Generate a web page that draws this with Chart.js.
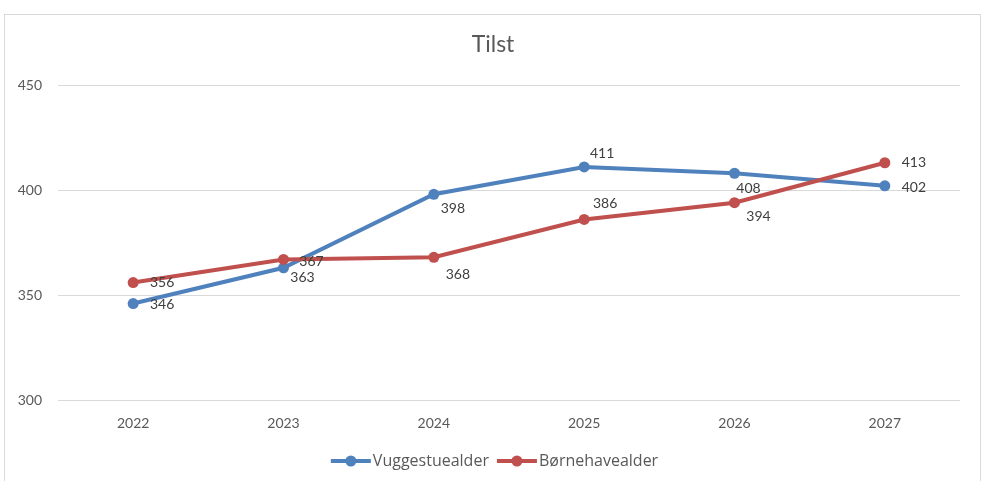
<!DOCTYPE html>
<html>
<head>
<meta charset="utf-8">
<script src="https://cdn.jsdelivr.net/npm/chart.js@4.4.0/dist/chart.umd.min.js"></script>
<style>
  html, body { margin: 0; padding: 0; background: #fff; }
  #chart { position: absolute; left: 0; top: 0; }
</style>
</head>
<body>
<canvas id="chart" width="981" height="481"></canvas>
<script>
// data
const years = ["2022", "2023", "2024", "2025", "2026", "2027"];
const vuggestue = [346, 363, 398, 411, 408, 402];
const boernehave = [356, 367, 368, 386, 394, 413];
const seriesNames = ["Vuggestuealder", "Børnehavealder"];
const yTicks = [300, 350, 400, 450];
const chartTitle = "Tilst";

const blue = "#4F81BD";
const red = "#C0504D";
const font = "Lato, 'Open Sans', sans-serif";

// where each value label sits relative to its point (dx, dy)
const labelOffsets = [
  [[29, 1], [19, 10], [19, 14], [18, -13], [14, 15], [29, 2]],
  [[29, 0], [28, 2], [24, 17], [21, -16], [24, 14], [29, 0]]
];

// frame round the chart + white background + title
const framePlugin = {
  id: "frame",
  beforeDraw(chart) {
    const ctx = chart.ctx;
    ctx.save();
    ctx.fillStyle = "#fff";
    ctx.fillRect(0, 0, chart.width, chart.height);
    ctx.strokeStyle = "#D9D9D9";
    ctx.lineWidth = 1;
    ctx.strokeRect(4.5, 14.5, 976, 480);
    ctx.font = "23px " + font;
    ctx.fillStyle = "#595959";
    ctx.textAlign = "center";
    ctx.textBaseline = "middle";
    ctx.fillText(chartTitle, 493, 45);
    ctx.restore();
  }
};

// value labels next to points
const valueLabels = {
  id: "valueLabels",
  afterDatasetsDraw(chart) {
    const ctx = chart.ctx;
    ctx.save();
    ctx.font = "14px " + font;
    ctx.fillStyle = "#404040";
    ctx.textAlign = "center";
    ctx.textBaseline = "middle";
    chart.data.datasets.forEach((ds, di) => {
      const meta = chart.getDatasetMeta(di);
      meta.data.forEach((pt, i) => {
        const off = labelOffsets[di][i];
        ctx.fillText(String(ds.data[i]), pt.x + off[0], pt.y + off[1]);
      });
    });
    ctx.restore();
  }
};

// legend with line + marker, like the office style
const lineLegend = {
  id: "lineLegend",
  afterDraw(chart) {
    const ctx = chart.ctx;
    ctx.save();
    ctx.font = "16px 'Open Sans', sans-serif";
    ctx.textBaseline = "middle";
    const lineW = 40, gap = 2, itemGap = 8;
    const items = chart.data.datasets.map(ds => ({
      text: ds.label, color: ds.borderColor, w: lineW + gap + ctx.measureText(ds.label).width
    }));
    const total = items.reduce((s, it) => s + it.w, 0) + itemGap * (items.length - 1);
    let x = 494.5 - total / 2;
    const y = 461;
    items.forEach(it => {
      ctx.strokeStyle = it.color;
      ctx.lineWidth = 4;
      ctx.beginPath();
      ctx.moveTo(x, y);
      ctx.lineTo(x + lineW, y);
      ctx.stroke();
      ctx.fillStyle = it.color;
      ctx.beginPath();
      ctx.arc(x + lineW / 2, y, 5.5, 0, Math.PI * 2);
      ctx.fill();
      ctx.fillStyle = "#595959";
      ctx.fillText(it.text, x + lineW + gap, y);
      x += it.w + itemGap;
    });
    ctx.restore();
  }
};

const config = {
  type: "line",
  data: {
    labels: years,
    datasets: [{
      label: seriesNames[0],
      data: vuggestue,
      borderColor: blue,
      backgroundColor: blue,
      pointBackgroundColor: blue,
      borderWidth: 4,
      pointRadius: 5.5,
      pointBorderWidth: 0,
      order: 1
    }, {
      label: seriesNames[1],
      data: boernehave,
      borderColor: red,
      backgroundColor: red,
      pointBackgroundColor: red,
      borderWidth: 4,
      pointRadius: 5.5,
      pointBorderWidth: 0,
      order: 0
    }]
  },
  options: {
    responsive: false,
    animation: false,
    layout: { padding: { left: 0, right: 21, top: 85, bottom: 34 } },
    plugins: {
      legend: { display: false },
      tooltip: { enabled: false },
      title: { display: false }
    },
    scales: {
      x: {
        offset: true,
        grid: { display: false, drawTicks: false },
        border: { display: false },
        ticks: { color: "#595959", font: { family: font, size: 14 }, padding: 15, maxRotation: 0 }
      },
      y: {
        min: 300,
        max: 450,
        afterFit(scale) { scale.width = 58; },
        afterBuildTicks(scale) { scale.ticks = yTicks.map(v => ({ value: v })); },
        grid: { color: "#D9D9D9", lineWidth: 1, drawTicks: false },
        border: { display: false },
        ticks: { color: "#595959", font: { family: font, size: 14 }, padding: 16 }
      }
    }
  },
  plugins: [framePlugin, valueLabels, lineLegend]
};

const chart = new Chart(document.getElementById("chart"), config);
</script>
</body>
</html>
